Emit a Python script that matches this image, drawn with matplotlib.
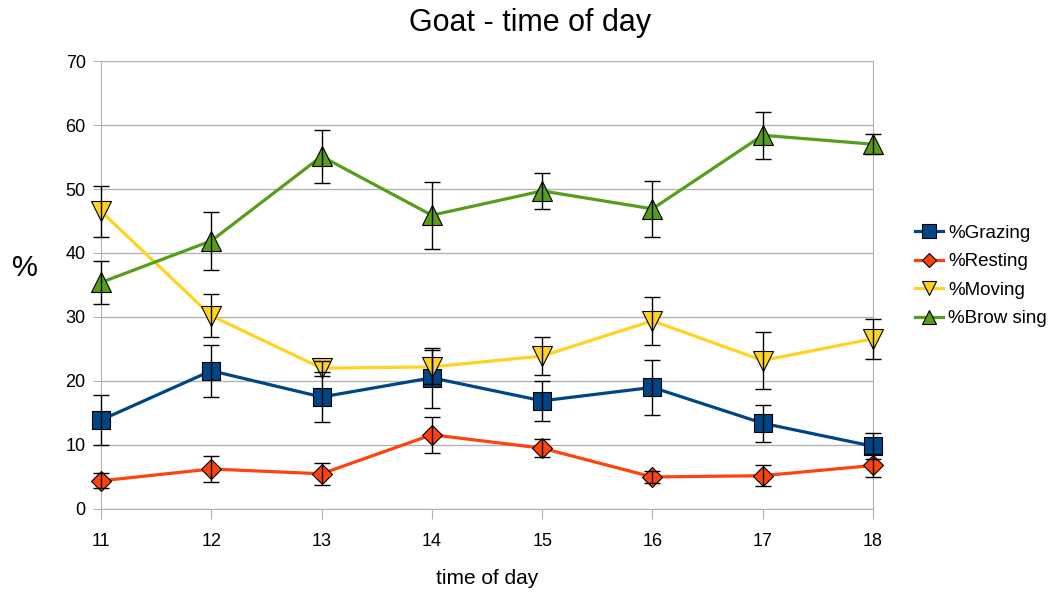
import matplotlib
matplotlib.use("Agg")
import matplotlib.pyplot as plt

plt.rcParams["font.family"] = ["Liberation Sans", "DejaVu Sans"]

# ── Data ──
hours = [11, 12, 13, 14, 15, 16, 17, 18]

grazing = [13.9, 21.6, 17.5, 20.5, 16.9, 19.0, 13.4, 9.8]
grazing_err = [3.9, 4.1, 3.9, 4.7, 3.1, 4.3, 2.9, 2.0]

resting = [4.4, 6.25, 5.5, 11.6, 9.5, 5.0, 5.2, 6.8]
resting_err = [1.2, 2.0, 1.7, 2.8, 1.4, 0.9, 1.6, 1.8]

moving = [46.5, 30.2, 22.0, 22.2, 23.9, 29.4, 23.2, 26.6]
moving_err = [4.0, 3.4, 1.2, 2.6, 2.9, 3.8, 4.4, 3.1]

browsing = [35.4, 41.9, 55.1, 45.9, 49.7, 46.9, 58.4, 57.0]
browsing_err = [3.4, 4.5, 4.1, 5.2, 2.8, 4.4, 3.7, 1.6]

series = [
    ("%Grazing", grazing, grazing_err, "#004586", "s", 13),
    ("%Resting", resting, resting_err, "#ff420e", "D", 10),
    ("%Moving", moving, moving_err, "#ffd320", "v", 14),
    ("%Brow sing", browsing, browsing_err, "#579d1c", "^", 14),
]

fig = plt.figure(figsize=(10.6, 5.93), dpi=100)
ax = fig.add_axes([0.0953, 0.1417, 0.7283, 0.7554])

for label, vals, errs, color, mk, ms in series:
    ax.plot(hours, vals, color=color, lw=2.3, marker=mk, ms=ms,
            mfc=color, mec="black", mew=0.8, label=label, zorder=3,
            clip_on=False)
    eb = ax.errorbar(hours, vals, yerr=errs, fmt="none", ecolor="black",
                     elinewidth=1, capsize=6, capthick=1, zorder=4)
    for art in eb.lines[1] + eb.lines[2]:
        art.set_clip_on(False)

ax.set_xlim(11, 18)
ax.set_ylim(0, 70)
ax.set_xticks(hours)
ax.set_yticks(range(0, 71, 10))
ax.yaxis.grid(True, color="#b3b3b3", lw=1)
ax.set_axisbelow(True)
for s in ax.spines.values():
    s.set_color("#b3b3b3")
ax.tick_params(colors="#b3b3b3", labelcolor="black", labelsize=13)
ax.tick_params(axis="x", length=7, pad=10)
ax.tick_params(axis="y", length=6, pad=5)

fig.text(0.5, 1 - 23 / 593, "Goat - time of day", fontsize=22,
         ha="center", va="center")
ax.set_xlabel("time of day", fontsize=15)
ax.xaxis.set_label_coords(0.5, -0.135)
ax.set_ylabel("%", fontsize=21, rotation=0, va="center", ha="center")
ax.yaxis.set_label_coords(-0.098, 0.538)

ax.legend(loc="center left", bbox_to_anchor=(1.032, 0.52), frameon=False,
          fontsize=13.5, handlelength=1.5, handletextpad=0.3, labelspacing=0.6,
          markerscale=0.75)

fig.savefig("out.png", dpi=100)
